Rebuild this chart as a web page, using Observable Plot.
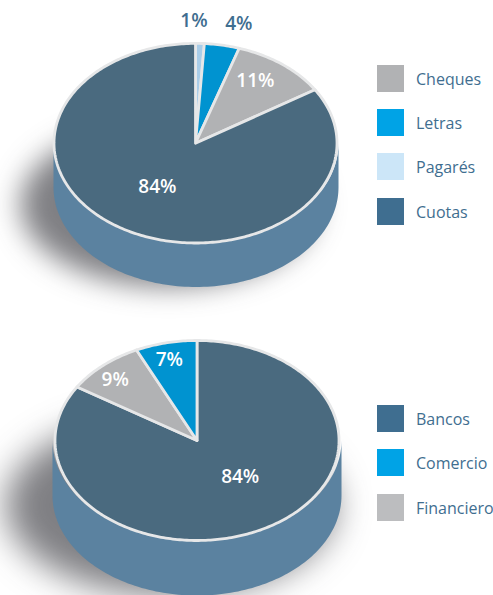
<!DOCTYPE html>
<html lang="es">
<head>
<meta charset="utf-8">
<script src="https://cdn.jsdelivr.net/npm/d3@7"></script>
<script src="https://cdn.jsdelivr.net/npm/@observablehq/plot@0.6"></script>
<style>
html,body{margin:0;padding:0;background:#fff;overflow:hidden}
svg{display:block}
</style>
</head>
<body>
<div id="chart"></div>
<script>
// Data: first pie
const categoriesA = ["Pagarés", "Letras", "Cheques", "Cuotas"];
const valuesA = [1, 4, 11, 84];
const legendA = ["Cheques", "Letras", "Pagarés", "Cuotas"];
// Data: second pie
const categoriesB = ["Bancos", "Financiero", "Comercio"];
const valuesB = [84, 9, 7];
const legendB = ["Bancos", "Comercio", "Financiero"];

// Styles
const sliceColors = {Pagarés:"#a9cde8", Letras:"#0093d0", Cheques:"#b1b2b4", Cuotas:"#4a6a7f", Bancos:"#4a6a7f", Comercio:"#0093d0", Financiero:"#b1b2b4"};
const swatchColors = {Cheques:"#b1b2b4", Letras:"#00a3e6", Pagarés:"#cce6f8", Cuotas:"#3f6e90", Bancos:"#3f6e90", Comercio:"#00a3e6", Financiero:"#bcbdbf"};
const ink = "#3f6e90", rim = "#e6e7e8", wallColor = "#5b82a0";
const font = "'Open Sans', sans-serif";

function pie({categories, values, legend, height, c, rx, ry, wall, shadow, labelPlace, swatchTop, swatchGaps}) {
  const total = d3.sum(values);
  let acc = 0;
  const slices = categories.map((category, i) => {
    const a0 = acc / total * 2 * Math.PI;
    acc += values[i];
    return {category, value: values[i], a0, a1: acc / total * 2 * Math.PI, i};
  });
  const on = (a, r = 1) => [c[0] + r * rx * Math.sin(a), c[1] - r * ry * Math.cos(a)];
  const sector = s => {
    const n = Math.max(2, Math.ceil((s.a1 - s.a0) * 60));
    return [c, ...d3.range(n + 1).map(k => on(s.a0 + (s.a1 - s.a0) * k / n)), c]
      .map(p => ({x: p[0], y: p[1], category: s.category}));
  };
  const ring = (cx, cy, ax, ay, from, to, n = 120) =>
    d3.range(n + 1).map(k => {
      const a = from + (to - from) * k / n;
      return {x: cx + ax * Math.sin(a), y: cy - ay * Math.cos(a)};
    });
  const wallPts = [
    ...ring(wall.cx, c[1], wall.rx, ry, Math.PI / 2, 1.5 * Math.PI).slice(0, 1),
    ...ring(wall.cx, c[1] + wall.depth, wall.rx, ry, Math.PI / 2, 1.5 * Math.PI),
    ...ring(wall.cx, c[1], wall.rx, ry, 1.5 * Math.PI, 0.5 * Math.PI)
  ];
  const labels = slices.map((s, i) => {
    const [r, ox, oy, outside] = labelPlace[i];
    const [x, y] = on((s.a0 + s.a1) / 2, r);
    return {x: x + ox, y: y + oy, text: `${s.value}%`, color: outside ? ink : "#fff"};
  });
  const swatches = legend.map((name, i) => ({name, top: swatchTop + swatchGaps[i]}));
  const chart = Plot.plot({
    width: 493, height,
    margin: 0,
    x: {domain: [0, 493], range: [0, 493], axis: null},
    y: {domain: [0, height], range: [0, height], axis: null},
    color: {domain: Object.keys(sliceColors), range: Object.values(sliceColors)},
    style: {background: "transparent", fontFamily: font},
    marks: [
      Plot.line(ring(shadow.cx, shadow.cy, shadow.rx, shadow.ry, 0, 2 * Math.PI), {
        x: "x", y: "y", fill: "#2a2a30", fillOpacity: shadow.opacity, stroke: "none"
      }),
      Plot.line(wallPts, {x: "x", y: "y", fill: wallColor, stroke: "none"}),
      Plot.line(slices.flatMap(sector), {
        x: "x", y: "y", z: "category", fill: "category",
        stroke: rim, strokeWidth: 2.8, strokeLinejoin: "miter", strokeMiterlimit: 2
      }),
      Plot.text(labels, {
        x: "x", y: "y", text: "text", fill: {value: "color", scale: null},
        fontSize: 19, fontWeight: 600, letterSpacing: -1, stroke: "none"
      }),
      Plot.rect(swatches, {
        x1: () => 377, x2: () => 404, y1: "top", y2: d => d.top + 27,
        fill: {value: d => swatchColors[d.name], scale: null}
      }),
      Plot.text(swatches, {
        x: () => 415.5, y: d => d.top + 14.5, text: "name", textAnchor: "start",
        fill: ink, fontSize: 16, letterSpacing: -0.4
      })
    ]
  });
  const s = chart.querySelector('g[aria-label="line"]');
  if (s) s.style.filter = `blur(${shadow.blur}px)`;
  return chart;
}

const root = document.getElementById("chart");
root.append(pie({
  categories: categoriesA, values: valuesA, legend: legendA, height: 330,
  c: [195, 142.7], rx: 141.5, ry: 99.8,
  wall: {cx: 195.5, rx: 142.5, depth: 44},
  shadow: {cx: 168, cy: 204, rx: 148, ry: 82, opacity: .6, blur: 14},
  labelPlace: [[1.23, -7, 0, true], [1.22, 11, 0, true], [.69, 0, -8, false], [.5, -4, 0, false]],
  swatchTop: 65, swatchGaps: [0, 44, 88, 133]
}));
root.append(pie({
  categories: categoriesB, values: valuesB, legend: legendB, height: 265,
  c: [196.5, 110], rx: 142, ry: 100,
  wall: {cx: 196.5, rx: 144.5, depth: 55},
  shadow: {cx: 170, cy: 175, rx: 165, ry: 90, opacity: .6, blur: 17},
  labelPlace: [[.5, 9, -7, false], [.85, -2, 3, false], [.83, -2, 0, false]],
  swatchTop: 75, swatchGaps: [0, 44, 89]
}));
</script>
</body>
</html>
